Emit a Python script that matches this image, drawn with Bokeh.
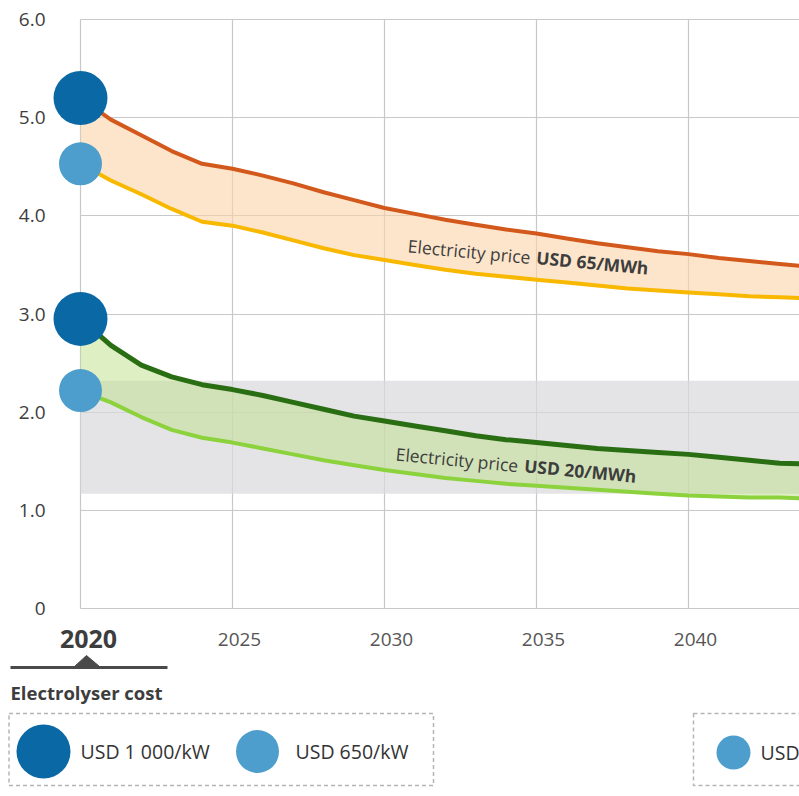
from bokeh.plotting import figure
from bokeh.models import Range1d, FixedTicker, Grid
from bokeh.layouts import column
from bokeh.core.properties import value
from bokeh.embed import file_html
from bokeh.resources import INLINE

# ---------------- data ----------------
years = list(range(2020, 2045))
cost_65_1000 = [5.20, 4.98, 4.82, 4.66, 4.53, 4.48, 4.41, 4.33, 4.24, 4.16, 4.08, 4.02, 3.96,
                3.91, 3.86, 3.82, 3.77, 3.72, 3.68, 3.64, 3.61, 3.57, 3.54, 3.51, 3.48]
cost_65_650 = [4.53, 4.36, 4.22, 4.07, 3.94, 3.90, 3.83, 3.75, 3.67, 3.60, 3.55, 3.50, 3.45,
               3.41, 3.38, 3.35, 3.32, 3.29, 3.26, 3.24, 3.22, 3.20, 3.18, 3.17, 3.16]
cost_20_1000 = [2.95, 2.68, 2.48, 2.36, 2.28, 2.23, 2.17, 2.10, 2.03, 1.96, 1.91, 1.86, 1.81,
                1.76, 1.72, 1.69, 1.66, 1.63, 1.61, 1.59, 1.57, 1.54, 1.51, 1.48, 1.47]
cost_20_650 = [2.22, 2.10, 1.95, 1.82, 1.74, 1.69, 1.63, 1.57, 1.51, 1.46, 1.41, 1.37, 1.33,
               1.30, 1.27, 1.25, 1.23, 1.21, 1.19, 1.17, 1.15, 1.14, 1.13, 1.13, 1.12]
band_low = 1.17
band_high = 2.32
y_ticks = [0, 1, 2, 3, 4, 5, 6]
y_tick_labels = ["0", "1.0", "2.0", "3.0", "4.0", "5.0", "6.0"]
x_ticks = [2020, 2025, 2030, 2035, 2040]
x_tick_labels = ["2020", "2025", "2030", "2035", "2040"]
label_65 = ["Electricity price", "USD 65/MWh"]
label_20 = ["Electricity price", "USD 20/MWh"]
legend_title = "Electrolyser cost"
legend_labels = ["USD 1 000/kW", "USD 650/kW", "USD"]

# ---------------- styles ----------------
FONT = "Open Sans"
DARK_BLUE = "#0a68a5"
LIGHT_BLUE = "#4d9ecc"
ORANGE = "#d3581b"
YELLOW = "#f8b800"
DARK_GREEN = "#2a6e14"
LIGHT_GREEN = "#8cd23c"
GRID = "#c8c8c8"
TEXT = "#3d3d3d"

# layout geometry (pixels)
W = 799
H_MAIN = 654
TOP_GRID_PX = 19             # where 6.0 sits
PX_PER_UNIT = 589 / 6.0      # vertical scale
PX_PER_YEAR = 30.4           # horizontal scale
AXIS_X_PX = 80               # where 2020 sits
X_START = x_ticks[0] - AXIS_X_PX / PX_PER_YEAR
X_END = x_ticks[0] + (W - AXIS_X_PX) / PX_PER_YEAR
Y_END = y_ticks[-1] + TOP_GRID_PX / PX_PER_UNIT
Y_START = Y_END - H_MAIN / PX_PER_UNIT

# ---------------- main plot ----------------
p = figure(width=W, height=H_MAIN, x_range=Range1d(X_START, X_END),
           y_range=Range1d(Y_START, Y_END), output_backend="svg", toolbar_location=None,
           min_border=0, min_border_left=0, min_border_right=0, min_border_top=0,
           min_border_bottom=0, x_axis_location=None, y_axis_location=None)
p.outline_line_color = None

p.xgrid.ticker = FixedTicker(ticks=x_ticks)
p.ygrid.ticker = FixedTicker(ticks=y_ticks)
for g in (p.xgrid, p.ygrid):
    g.grid_line_color = GRID
    g.grid_line_width = 1.2
if "cross_bounds" in Grid.properties():
    p.ygrid.cross_bounds = (x_ticks[0], X_END + 1)
    p.xgrid.cross_bounds = (y_ticks[0], y_ticks[-1])
else:
    p.ygrid.grid_line_color = None
    p.xgrid.grid_line_color = None
    p.segment(x0=[x_ticks[0]] * len(y_ticks), x1=[X_END + 1] * len(y_ticks),
              y0=y_ticks, y1=y_ticks, line_color=GRID, line_width=1.2)
    p.segment(x0=x_ticks, x1=x_ticks, y0=[y_ticks[0]] * len(x_ticks),
              y1=[y_ticks[-1]] * len(x_ticks), line_color=GRID, line_width=1.2)

# tick labels
p.text(x=[x_ticks[0]] * len(y_ticks), y=y_ticks, text=y_tick_labels, x_offset=-35,
       text_align="right", text_baseline="middle", text_font=value(FONT),
       text_font_size="19px", text_color=TEXT)
p.text(x=x_ticks[1:], y=[y_ticks[0]] * len(x_ticks[1:]), text=x_tick_labels[1:],
       x_offset=7, y_offset=31, text_align="center", text_baseline="middle",
       text_font=value(FONT), text_font_size="19px", text_color="#555555")
p.text(x=[x_ticks[0]], y=[y_ticks[0]], text=[x_tick_labels[0]], x_offset=8, y_offset=30,
       text_align="center", text_baseline="middle", text_font=value(FONT),
       text_font_size="25px", text_font_style="bold", text_color=TEXT)

# gray band
p.quad(left=years[0], right=years[-1], bottom=band_low, top=band_high,
       fill_color="#d8d8dc", fill_alpha=0.7, line_color=None)

# ranges between electrolyser costs
p.varea(x=years, y1=cost_65_650, y2=cost_65_1000, fill_color="#fcd3a8", fill_alpha=0.6)
p.varea(x=years, y1=cost_20_650, y2=cost_20_1000, fill_color="#bfe08a", fill_alpha=0.5)

p.line(years, cost_65_1000, line_color=ORANGE, line_width=4)
p.line(years, cost_65_650, line_color=YELLOW, line_width=4)
p.line(years, cost_20_1000, line_color=DARK_GREEN, line_width=5)
p.line(years, cost_20_650, line_color=LIGHT_GREEN, line_width=4)

p.scatter(x=[years[0], years[0]], y=[cost_65_1000[0], cost_20_1000[0]], size=54,
          fill_color=DARK_BLUE, line_color=None)
p.scatter(x=[years[0], years[0]], y=[cost_65_650[0], cost_20_650[0]], size=43,
          fill_color=LIGHT_BLUE, line_color=None)

for (xa, ya, lab) in [(2034.9, 3.58, label_65), (2034.5, 1.46, label_20)]:
    p.text(x=[xa], y=[ya], text=[lab[0]], angle=-0.095, text_align="right",
           text_baseline="middle", x_offset=-3, text_font=value(FONT),
           text_font_size="17.5px", text_color=TEXT)
    p.text(x=[xa], y=[ya], text=[lab[1]], angle=-0.095, text_align="left",
           text_baseline="middle", x_offset=3, text_font=value(FONT),
           text_font_size="17.5px", text_font_style="bold", text_color=TEXT)

# ---------------- legend area ----------------
H_LEG = 796 - H_MAIN
p2 = figure(width=W, height=H_LEG, x_range=Range1d(0, W), y_range=Range1d(H_LEG, 0),
            output_backend="svg", toolbar_location=None, min_border=0,
            min_border_left=0, min_border_right=0, min_border_top=0, min_border_bottom=0,
            x_axis_location=None, y_axis_location=None)
p2.grid.visible = False
p2.outline_line_color = None

p2.line([10, 167], [13, 13], line_color="#4a4a4a", line_width=3)
p2.patch([74, 86, 99], [12, 1, 12], fill_color="#4a4a4a", line_color="#4a4a4a")
p2.text(x=[10], y=[38], text=[legend_title], text_align="left", text_baseline="middle",
        text_font=value(FONT), text_font_size="18.5px", text_font_style="bold",
        text_color=TEXT)

p2.quad(left=[8.5, 693], right=[433, 840], top=[59, 59], bottom=[131, 131],
        fill_color=None, line_color="#b5b5b5", line_dash="4 3", line_width=1.5)
p2.scatter(x=[43], y=[97], size=54, fill_color=DARK_BLUE, line_color=None)
p2.scatter(x=[257], y=[97], size=43, fill_color=LIGHT_BLUE, line_color=None)
p2.scatter(x=[733], y=[98], size=34, fill_color=LIGHT_BLUE, line_color=None)
p2.text(x=[80, 295, 760], y=[97, 97, 98], text=legend_labels, text_align="left",
        text_baseline="middle", text_font=value(FONT), text_font_size="19.5px",
        text_color="#333333")

layout = column(p, p2, spacing=0)
open("out.html", "w").write(file_html(layout, INLINE))
